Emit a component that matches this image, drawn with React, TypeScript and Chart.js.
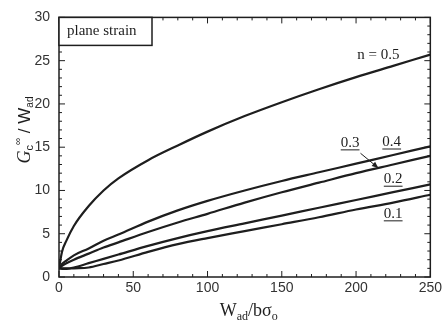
import React, { useEffect, useRef } from "react";
import { Chart, registerables } from "chart.js";
Chart.register(...registerables);

const xValues = [0, 2, 5, 10, 20, 30, 40, 60, 80, 100, 125, 150, 175, 200, 225, 250];
const n05 = [1, 2.9, 4.2, 5.9, 8.2, 10.0, 11.4, 13.5, 15.2, 16.8, 18.6, 20.2, 21.7, 23.1, 24.4, 25.7];
const n04 = [1, 1.5, 1.9, 2.5, 3.3, 4.2, 4.9, 6.4, 7.7, 8.8, 10.0, 11.1, 12.1, 13.1, 14.1, 15.1];
const n03 = [1, 1.3, 1.6, 2.0, 2.7, 3.4, 4.0, 5.2, 6.3, 7.3, 8.6, 9.8, 10.9, 12.0, 13.0, 14.0];
const n02 = [1, 1.0, 1.0, 1.1, 1.6, 2.1, 2.6, 3.6, 4.5, 5.3, 6.2, 7.1, 8.0, 8.9, 9.8, 10.7];
const n01 = [1, 0.95, 0.95, 1.0, 1.1, 1.5, 1.9, 2.9, 3.8, 4.5, 5.3, 6.1, 6.9, 7.8, 8.6, 9.5];
const seriesNames = ["n = 0.5", "0.4", "0.3", "0.2", "0.1"];
const seriesValues = [n05, n04, n03, n02, n01];
const xTickValues = [0, 50, 100, 150, 200, 250];
const yTickValues = [0, 5, 10, 15, 20, 25, 30];

const INK = "#1e1e1e";
const SERIF = "'Liberation Serif', 'DejaVu Serif', serif";
const SANS = "'Liberation Sans', Arial, sans-serif";

type Run = { t: string; font: string; dy?: number };

function drawRuns(ctx: CanvasRenderingContext2D, runs: Run[], cx: number, cy: number) {
  let total = 0;
  for (const r of runs) {
    ctx.font = r.font;
    total += ctx.measureText(r.t).width;
  }
  let x = cx - total / 2;
  for (const r of runs) {
    ctx.font = r.font;
    ctx.fillText(r.t, x, cy + (r.dy || 0));
    x += ctx.measureText(r.t).width;
  }
}

const decorPlugin = {
  id: "decor",
  afterDraw(chart: any) {
    const { ctx, chartArea, scales } = chart;
    const { left, right, top, bottom } = chartArea;
    const xs = scales.x;
    const ys = scales.y;
    ctx.save();
    ctx.strokeStyle = INK;
    ctx.lineWidth = 1.5;
    ctx.strokeRect(left, top, right - left, bottom - top);
    ctx.lineWidth = 1;
    for (let v = 0; v <= 250; v += 10) {
      const px = xs.getPixelForValue(v);
      const len = v % 50 === 0 ? 6 : 3;
      ctx.beginPath();
      ctx.moveTo(px, bottom);
      ctx.lineTo(px, bottom - len);
      ctx.moveTo(px, top);
      ctx.lineTo(px, top + len);
      ctx.stroke();
    }
    for (let v = 0; v <= 30; v += 1) {
      const py = ys.getPixelForValue(v);
      const len = v % 5 === 0 ? 6 : 3;
      ctx.beginPath();
      ctx.moveTo(left, py);
      ctx.lineTo(left + len, py);
      ctx.moveTo(right, py);
      ctx.lineTo(right - len, py);
      ctx.stroke();
    }

    // plane strain box
    ctx.fillStyle = "#fff";
    ctx.fillRect(left, top, 93, 28);
    ctx.lineWidth = 1.5;
    ctx.strokeRect(left, top, 93, 28);
    ctx.fillStyle = INK;
    ctx.textBaseline = "middle";
    ctx.textAlign = "left";
    ctx.font = `15px ${SERIF}`;
    ctx.fillText("plane strain", left + 8, top + 14);

    // series labels
    ctx.textAlign = "center";
    ctx.font = `15px ${SERIF}`;
    const lbl = (t: string, xv: number, yv: number, underline: boolean) => {
      const px = xs.getPixelForValue(xv);
      const py = ys.getPixelForValue(yv);
      ctx.fillText(t, px, py);
      if (underline) {
        const w = ctx.measureText(t).width;
        ctx.beginPath();
        ctx.lineWidth = 1;
        ctx.moveTo(px - w / 2, py + 7);
        ctx.lineTo(px + w / 2, py + 7);
        ctx.stroke();
      }
    };
    lbl(seriesNames[0], 215, 25.7, false);
    lbl(seriesNames[1], 224, 15.6, true);
    lbl(seriesNames[2], 196, 15.5, true);
    lbl(seriesNames[3], 225, 11.3, true);
    lbl(seriesNames[4], 225, 7.3, true);

    // arrow from 0.3 label
    const ax0 = xs.getPixelForValue(203), ay0 = ys.getPixelForValue(14.3);
    const ax1 = xs.getPixelForValue(215), ay1 = ys.getPixelForValue(12.6);
    ctx.beginPath();
    ctx.lineWidth = 1;
    ctx.moveTo(ax0, ay0);
    ctx.lineTo(ax1, ay1);
    ctx.stroke();
    const ang = Math.atan2(ay1 - ay0, ax1 - ax0);
    ctx.beginPath();
    ctx.moveTo(ax1, ay1);
    ctx.lineTo(ax1 - 7 * Math.cos(ang - 0.4), ay1 - 7 * Math.sin(ang - 0.4));
    ctx.lineTo(ax1 - 7 * Math.cos(ang + 0.4), ay1 - 7 * Math.sin(ang + 0.4));
    ctx.closePath();
    ctx.fill();

    // x title
    ctx.textAlign = "left";
    ctx.textBaseline = "alphabetic";
    drawRuns(
      ctx,
      [
        { t: "W", font: `18px ${SERIF}` },
        { t: "ad", font: `12px ${SERIF}`, dy: 4 },
        { t: "/bσ", font: `18px ${SERIF}` },
        { t: "o", font: `12px ${SERIF}`, dy: 4 },
      ],
      (left + right) / 2 + 4,
      316
    );

    // y title
    ctx.save();
    ctx.translate(30, 130);
    ctx.rotate(-Math.PI / 2);
    drawRuns(
      ctx,
      [
        { t: "G", font: `italic 18px ${SERIF}` },
        { t: "c", font: `11px ${SANS}`, dy: 3 },
        { t: "∞", font: `10px ${SANS}`, dy: -9 },
        { t: " / W", font: `17px ${SANS}` },
        { t: "ad", font: `10px ${SANS}`, dy: 3 },
      ],
      0,
      0
    );
    ctx.restore();
    ctx.restore();
  },
};

export default function App() {
  const ref = useRef<HTMLCanvasElement | null>(null);
  useEffect(() => {
    if (!ref.current) return;
    const datasets = seriesValues.map((vals, i) => ({
      label: seriesNames[i],
      data: xValues.map((xv, j) => ({ x: xv, y: vals[j] })),
      borderColor: INK,
      borderWidth: 2.2,
      pointRadius: 0,
      fill: false,
      cubicInterpolationMode: "monotone" as const,
    }));
    const chart = new Chart(ref.current, {
      type: "line",
      data: { datasets },
      options: {
        animation: false,
        responsive: true,
        maintainAspectRatio: false,
        layout: { padding: { left: 0, right: 12, top: 15, bottom: 0 } },
        plugins: { legend: { display: false }, tooltip: { enabled: false } },
        scales: {
          x: {
            type: "linear",
            min: 0,
            max: 250,
            afterFit: (s: any) => {
              s.height = 48;
            },
            afterBuildTicks: (s: any) => {
              s.ticks = xTickValues.map((v) => ({ value: v }));
            },
            ticks: {
              padding: 3,
              font: { family: SANS, size: 14 },
              color: "#333",
              maxRotation: 0,
            },
            grid: { display: false, drawTicks: false },
            border: { display: false },
          },
          y: {
            type: "linear",
            min: 0,
            max: 30,
            afterFit: (s: any) => {
              s.width = 59;
            },
            afterBuildTicks: (s: any) => {
              s.ticks = yTickValues.map((v) => ({ value: v }));
            },
            ticks: {
              padding: 9,
              font: { family: SANS, size: 14 },
              color: "#333",
            },
            grid: { display: false, drawTicks: false },
            border: { display: false },
          },
        },
      },
      plugins: [decorPlugin],
    });
    return () => chart.destroy();
  }, []);
  return (
    <div style={{ position: "fixed", left: 0, top: 0, width: 445, height: 325, background: "#fff" }}>
      <canvas ref={ref} />
    </div>
  );
}
